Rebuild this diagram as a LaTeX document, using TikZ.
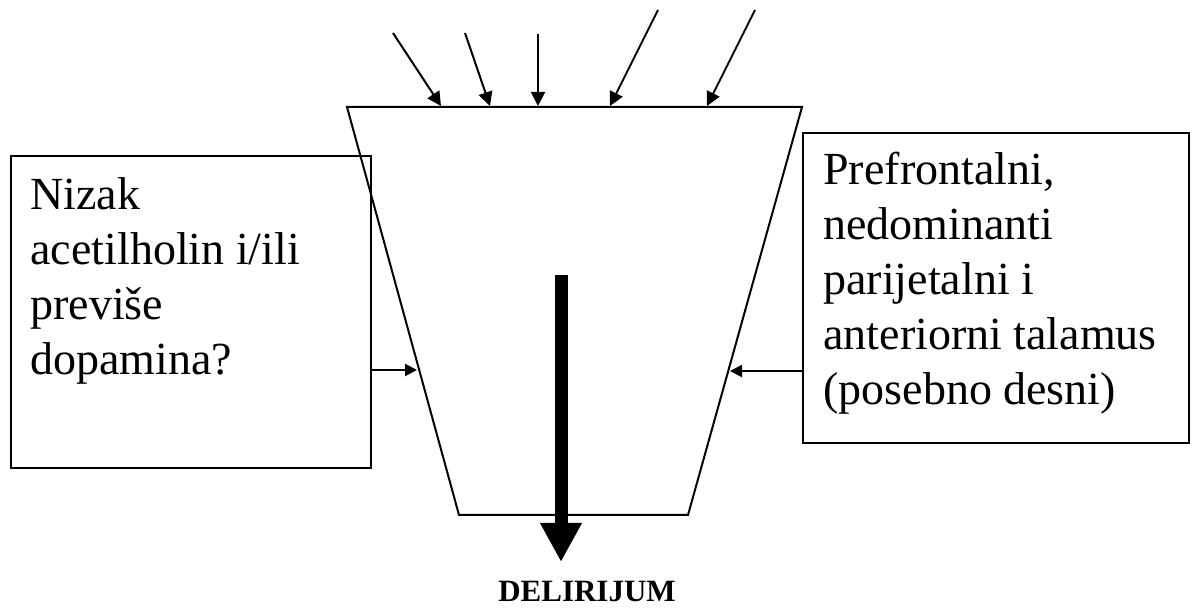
\documentclass[tikz,border=0pt]{standalone}
\usepackage{fontspec}
\setmainfont{Liberation Serif}
\usetikzlibrary{arrows.meta}
\tikzset{
  box/.style={draw, line width=1.2pt, inner sep=0pt, anchor=north west},
  boxtext/.style={anchor=north west, inner sep=0pt, align=left, font=\fontsize{23}{27.5}\selectfont},
  thin/.style={line width=1pt},
  feed/.style={line width=1pt, -{Triangle[length=7pt,width=7pt]}},
  side/.style={line width=1pt, -{Triangle[length=6pt,width=6pt]}},
  big/.style={line width=6.5pt, -{Triangle[length=19.5pt,width=19.5pt]}}
}
\begin{document}
\begin{tikzpicture}[x=0.5pt,y=-0.5pt]
\path[use as bounding box] (0,0) rectangle (1196,609);
% trapezoid
\coordinate (tl) at (347,107);
\coordinate (tr) at (802,107);
\coordinate (br) at (688,515);
\coordinate (bl) at (459,515);
\draw[thin] (tl) -- (tr) -- (br) -- (bl) -- cycle;
% boxes
\node[box, minimum width=180pt, minimum height=156pt] (L) at (10,155) {};
\node[box, minimum width=193pt, minimum height=155pt] (R) at (802,132) {};
\node[boxtext] (Lt) at (30,177) {Nizak\\acetilholin i/ili\\previše\\dopamina?};
\node[boxtext] (Rt) at (823,152) {Prefrontalni,\\nedominanti\\parijetalni i\\anteriorni talamus\\(posebno desni)};
% side arrows
\coordinate (lin) at (417,370);
\coordinate (rin) at (730,371);
\draw[side] (L.east |- lin) -- (lin);
\draw[side] (R.west |- rin) -- (rin);
% top arrows
\coordinate (s1) at (393,33);  \coordinate (e1) at (441,106);
\coordinate (s2) at (465,33);  \coordinate (e2) at (490,106);
\coordinate (s3) at (538,34);  \coordinate (e3) at (538,106);
\coordinate (s4) at (658,10);  \coordinate (e4) at (610,106);
\coordinate (s5) at (755,10);  \coordinate (e5) at (707,106);
\foreach \i in {1,...,5} \draw[feed] (s\i) -- (e\i);
% main arrow
\coordinate (ms) at (561,275);
\node[anchor=base, inner sep=0pt, font=\fontsize{15.5}{18}\selectfont\bfseries] (D) at (587,602) {DELIRIJUM};
\coordinate (me) at (561,562);
\draw[big] (ms) -- (me);
\end{tikzpicture}
\end{document}
